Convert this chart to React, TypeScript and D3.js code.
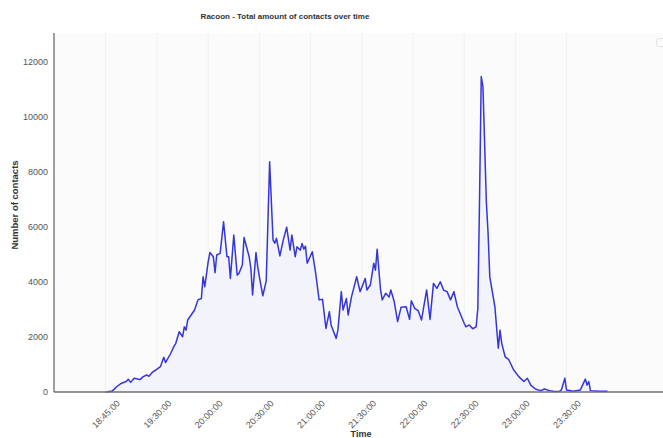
import React from 'react';
import * as d3 from 'd3';

const times = [
  "18:45","18:47","18:51","18:55","18:59","19:03","19:05","19:07","19:10","19:13","19:15","19:18","19:21","19:23","19:26","19:29",
  "19:30","19:32","19:34","19:35","19:38","19:40","19:41","19:43","19:45","19:46","19:47","19:48","19:50","19:52","19:54","19:56","19:57","19:58",
  "20:00","20:01","20:03","20:04","20:05","20:07","20:09","20:11","20:12","20:13","20:15","20:17","20:18","20:20","20:21","20:24","20:25","20:26","20:28","20:29",
  "20:30","20:32","20:34","20:36","20:38","20:39","20:40","20:42","20:44","20:46","20:48","20:49","20:51","20:52","20:54","20:55","20:56","20:57","20:58",
  "21:01","21:03","21:05","21:07","21:09","21:11","21:12","21:15","21:16","21:18","21:19","21:21","21:22","21:24","21:27","21:29",
  "21:32","21:33","21:35","21:37","21:38","21:39","21:41","21:42","21:44","21:46","21:47","21:49","21:51","21:53","21:56","21:58","21:59",
  "22:01","22:03","22:05","22:08","22:10","22:12","22:14","22:16","22:18","22:20","22:22","22:24","22:26","22:28",
  "22:30","22:31","22:33","22:35","22:37","22:38","22:39","22:40","22:41","22:43","22:44","22:45","22:48","22:50","22:51","22:52","22:54","22:56","22:59",
  "23:02","23:05","23:07","23:09","23:12","23:15","23:17","23:20","23:23","23:26","23:27","23:29",
  "23:30","23:34","23:38","23:41","23:42","23:43","23:44","23:49","23:54"
];

const contacts = [
  0,10,40,200,320,380,460,350,500,470,450,560,620,570,720,800,
  830,920,1260,1070,1400,1670,1770,2190,2010,2370,2250,2620,2800,2980,3350,3400,4190,3830,
  4740,5070,4920,4340,4980,5040,6190,4920,4920,4130,5710,4250,4310,4620,5620,4920,4500,3530,5070,4560,
  4190,3500,4040,8370,5530,5410,5590,4950,5530,5990,5160,5710,4920,5280,5160,5400,5200,5300,4680,
  5100,4310,3350,3370,2310,2920,2440,1950,2250,3650,2980,3400,2800,3470,4190,3650,
  4130,3710,3890,4680,4430,5190,3710,3350,3590,3450,3710,3290,2560,3080,3100,2640,3320,
  3040,2960,2620,3710,2640,3950,3770,4010,3700,3650,3350,3650,3100,2800,
  2500,2370,2440,2300,2370,3040,7000,11470,11100,6900,5770,4190,3100,1590,2250,1770,1280,1190,800,
  560,380,500,250,100,50,110,50,20,30,80,500,
  70,30,70,470,250,380,50,30,30
];

const tickTimes = ["18:45","19:30","20:00","20:30","21:00","21:30","22:00","22:30","23:00","23:30"];
const tickLabels = ["18:45:00","19:30:00","20:00:00","20:30:00","21:00:00","21:30:00","22:00:00","22:30:00","23:00:00","23:30:00"];
const yTicks = [0, 2000, 4000, 6000, 8000, 10000, 12000];

const W = 663;
const H = 438;
const left = 54, right = 663, top = 33, bottom = 392;

function parseT(s: string): Date {
  const p = s.split(':').map(Number);
  return new Date(2000, 0, 1, p[0], p[1], p[2] || 0);
}

export default function App() {
  const x = d3.scaleTime()
    .domain([parseT("18:00"), parseT("18:45"), parseT("19:30"), parseT("24:26:30")])
    .range([left, 105.5, 157, right]);
  const y = d3.scaleLinear().domain([0, 13000]).range([bottom, top + 1.5]);

  const data = times.map((t, i) => ({ t: parseT(t), v: contacts[i] }));
  const line = d3.line<any>().x(d => x(d.t)).y(d => y(d.v)).curve(d3.curveLinear);
  const area = d3.area<any>().x(d => x(d.t)).y0(y(0)).y1(d => y(d.v)).curve(d3.curveLinear);

  const font = "'Liberation Sans', Arial, Helvetica, sans-serif";

  return (
    <svg width={W} height={H} style={{ position: 'absolute', left: 0, top: 0, background: '#fff' }} fontFamily={font}>
      <rect x={left} y={top} width={right - left} height={bottom - top} fill="#fbfbfb" />
      {tickTimes.map((t, i) => (
        <line key={'g' + i} x1={x(parseT(t))} x2={x(parseT(t))} y1={top} y2={bottom} stroke="#f1f1f1" strokeWidth={1} />
      ))}
      <path d={area(data) || ''} fill="#f3f3fb" />
      <path d={line(data) || ''} fill="none" stroke="#3535dc" strokeWidth={1.5} strokeLinejoin="round" />
      <line x1={left} x2={left} y1={top} y2={bottom} stroke="#808080" strokeWidth={1.5} />
      <line x1={left} x2={right} y1={bottom} y2={bottom} stroke="#707070" strokeWidth={1.5} />
      {yTicks.map(v => (
        <text key={'y' + v} x={48} y={y(v)} dy="0.35em" textAnchor="end" fontSize={9} fill="#555">{v}</text>
      ))}
      {tickTimes.map((t, i) => (
        <text key={'x' + i} transform={`translate(${x(parseT(t)) + 15},${404}) rotate(-45)`} textAnchor="end" fontSize={9} fill="#555">{tickLabels[i]}</text>
      ))}
      <text x={285} y={19} textAnchor="middle" fontSize={8} fontWeight="bold" fill="#333">Racoon - Total amount of contacts over time</text>
      <text transform={`translate(18,${205}) rotate(-90)`} textAnchor="middle" fontSize={9.5} fontWeight="bold" fill="#333">Number of contacts</text>
      <text x={361} y={437} textAnchor="middle" fontSize={9} fontWeight="bold" fill="#333">Time</text>
      <rect x={656.5} y={38.5} width={9} height={8} rx={2.5} fill="none" stroke="#e2e2e2" strokeWidth={1} />
    </svg>
  );
}
